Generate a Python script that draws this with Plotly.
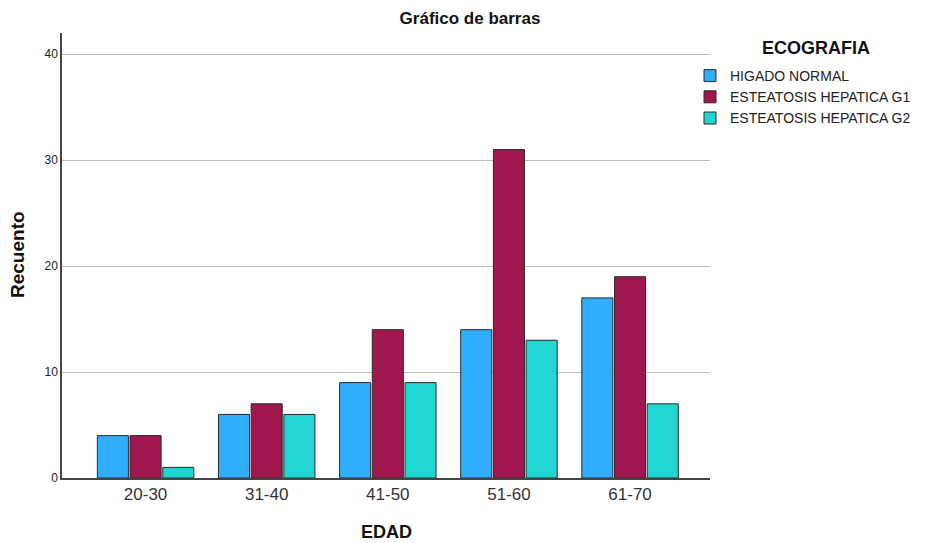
import plotly.graph_objects as go

categories = ["20-30", "31-40", "41-50", "51-60", "61-70"]
series_names = ["HIGADO NORMAL", "ESTEATOSIS HEPATICA G1", "ESTEATOSIS HEPATICA G2"]
higado_normal = [4, 6, 9, 14, 17]
esteatosis_g1 = [4, 7, 14, 31, 19]
esteatosis_g2 = [1, 6, 9, 13, 7]
y_ticks = [0, 10, 20, 30, 40]

colors = ["#31adfe", "#a0174e", "#21d6d2"]
values = [higado_normal, esteatosis_g1, esteatosis_g2]

W, H = 925, 543
L, R, T, B = 62, 215, 33, 65

fig = go.Figure()
for name, vals, col in zip(series_names, values, colors):
    fig.add_trace(go.Bar(
        x=categories, y=vals, name=name,
        marker=dict(color=col, line=dict(color="#2a2a2a", width=1)),
    ))

def px_x(p):
    return (p - L) / (W - L - R)

def px_y(p):
    return (H - B - p) / (H - T - B)

fig.update_layout(
    width=W, height=H,
    margin=dict(l=L, r=R, t=T, b=B, autoexpand=False),
    paper_bgcolor="white", plot_bgcolor="white",
    barmode="group", bargap=0.19, bargroupgap=0.05,
    font=dict(family="Liberation Sans, Arial, sans-serif", color="#222"),
    title=dict(text="<b>Gráfico de barras</b>", x=470 / W, xanchor="center",
               y=1 - 18 / H, yanchor="middle", font=dict(size=17, color="#111")),
    legend=dict(
        x=px_x(690), xanchor="left", y=px_y(60), yanchor="top",
        font=dict(size=14, color="#222"),
        itemwidth=30, tracegroupgap=0, bgcolor="rgba(0,0,0,0)",
    ),
    showlegend=True,
    annotations=[
        dict(text="<b>ECOGRAFIA</b>", x=px_x(816), y=px_y(48), xref="paper", yref="paper",
             xanchor="center", yanchor="middle", showarrow=False,
             font=dict(size=18, color="#111")),
        dict(text="<b>EDAD</b>", x=px_x(386), y=px_y(532), xref="paper", yref="paper",
             xanchor="center", yanchor="middle", showarrow=False,
             font=dict(size=18, color="#111")),
        dict(text="<b>Recuento</b>", x=px_x(18), y=px_y(255), xref="paper", yref="paper",
             xanchor="center", yanchor="middle", showarrow=False, textangle=-90,
             font=dict(size=19, color="#111")),
    ],
)
fig.update_xaxes(
    range=[-0.69, 4.66], showgrid=False, showline=True, automargin=False,
    linecolor="#444", linewidth=1.5, ticks="",
    tickfont=dict(size=17, color="#333"),
)
fig.update_yaxes(
    range=[0, 42], tickvals=y_ticks, showgrid=True, gridcolor="#bdbdbd",
    gridwidth=1, showline=True, linecolor="#444", linewidth=1.5, automargin=False,
    ticks="", tickfont=dict(size=12, color="#222"), zeroline=False,
)

fig.write_html("out.html", config={"displayModeBar": False},
               post_script="document.body.style.margin='0';document.body.style.padding='0';")
